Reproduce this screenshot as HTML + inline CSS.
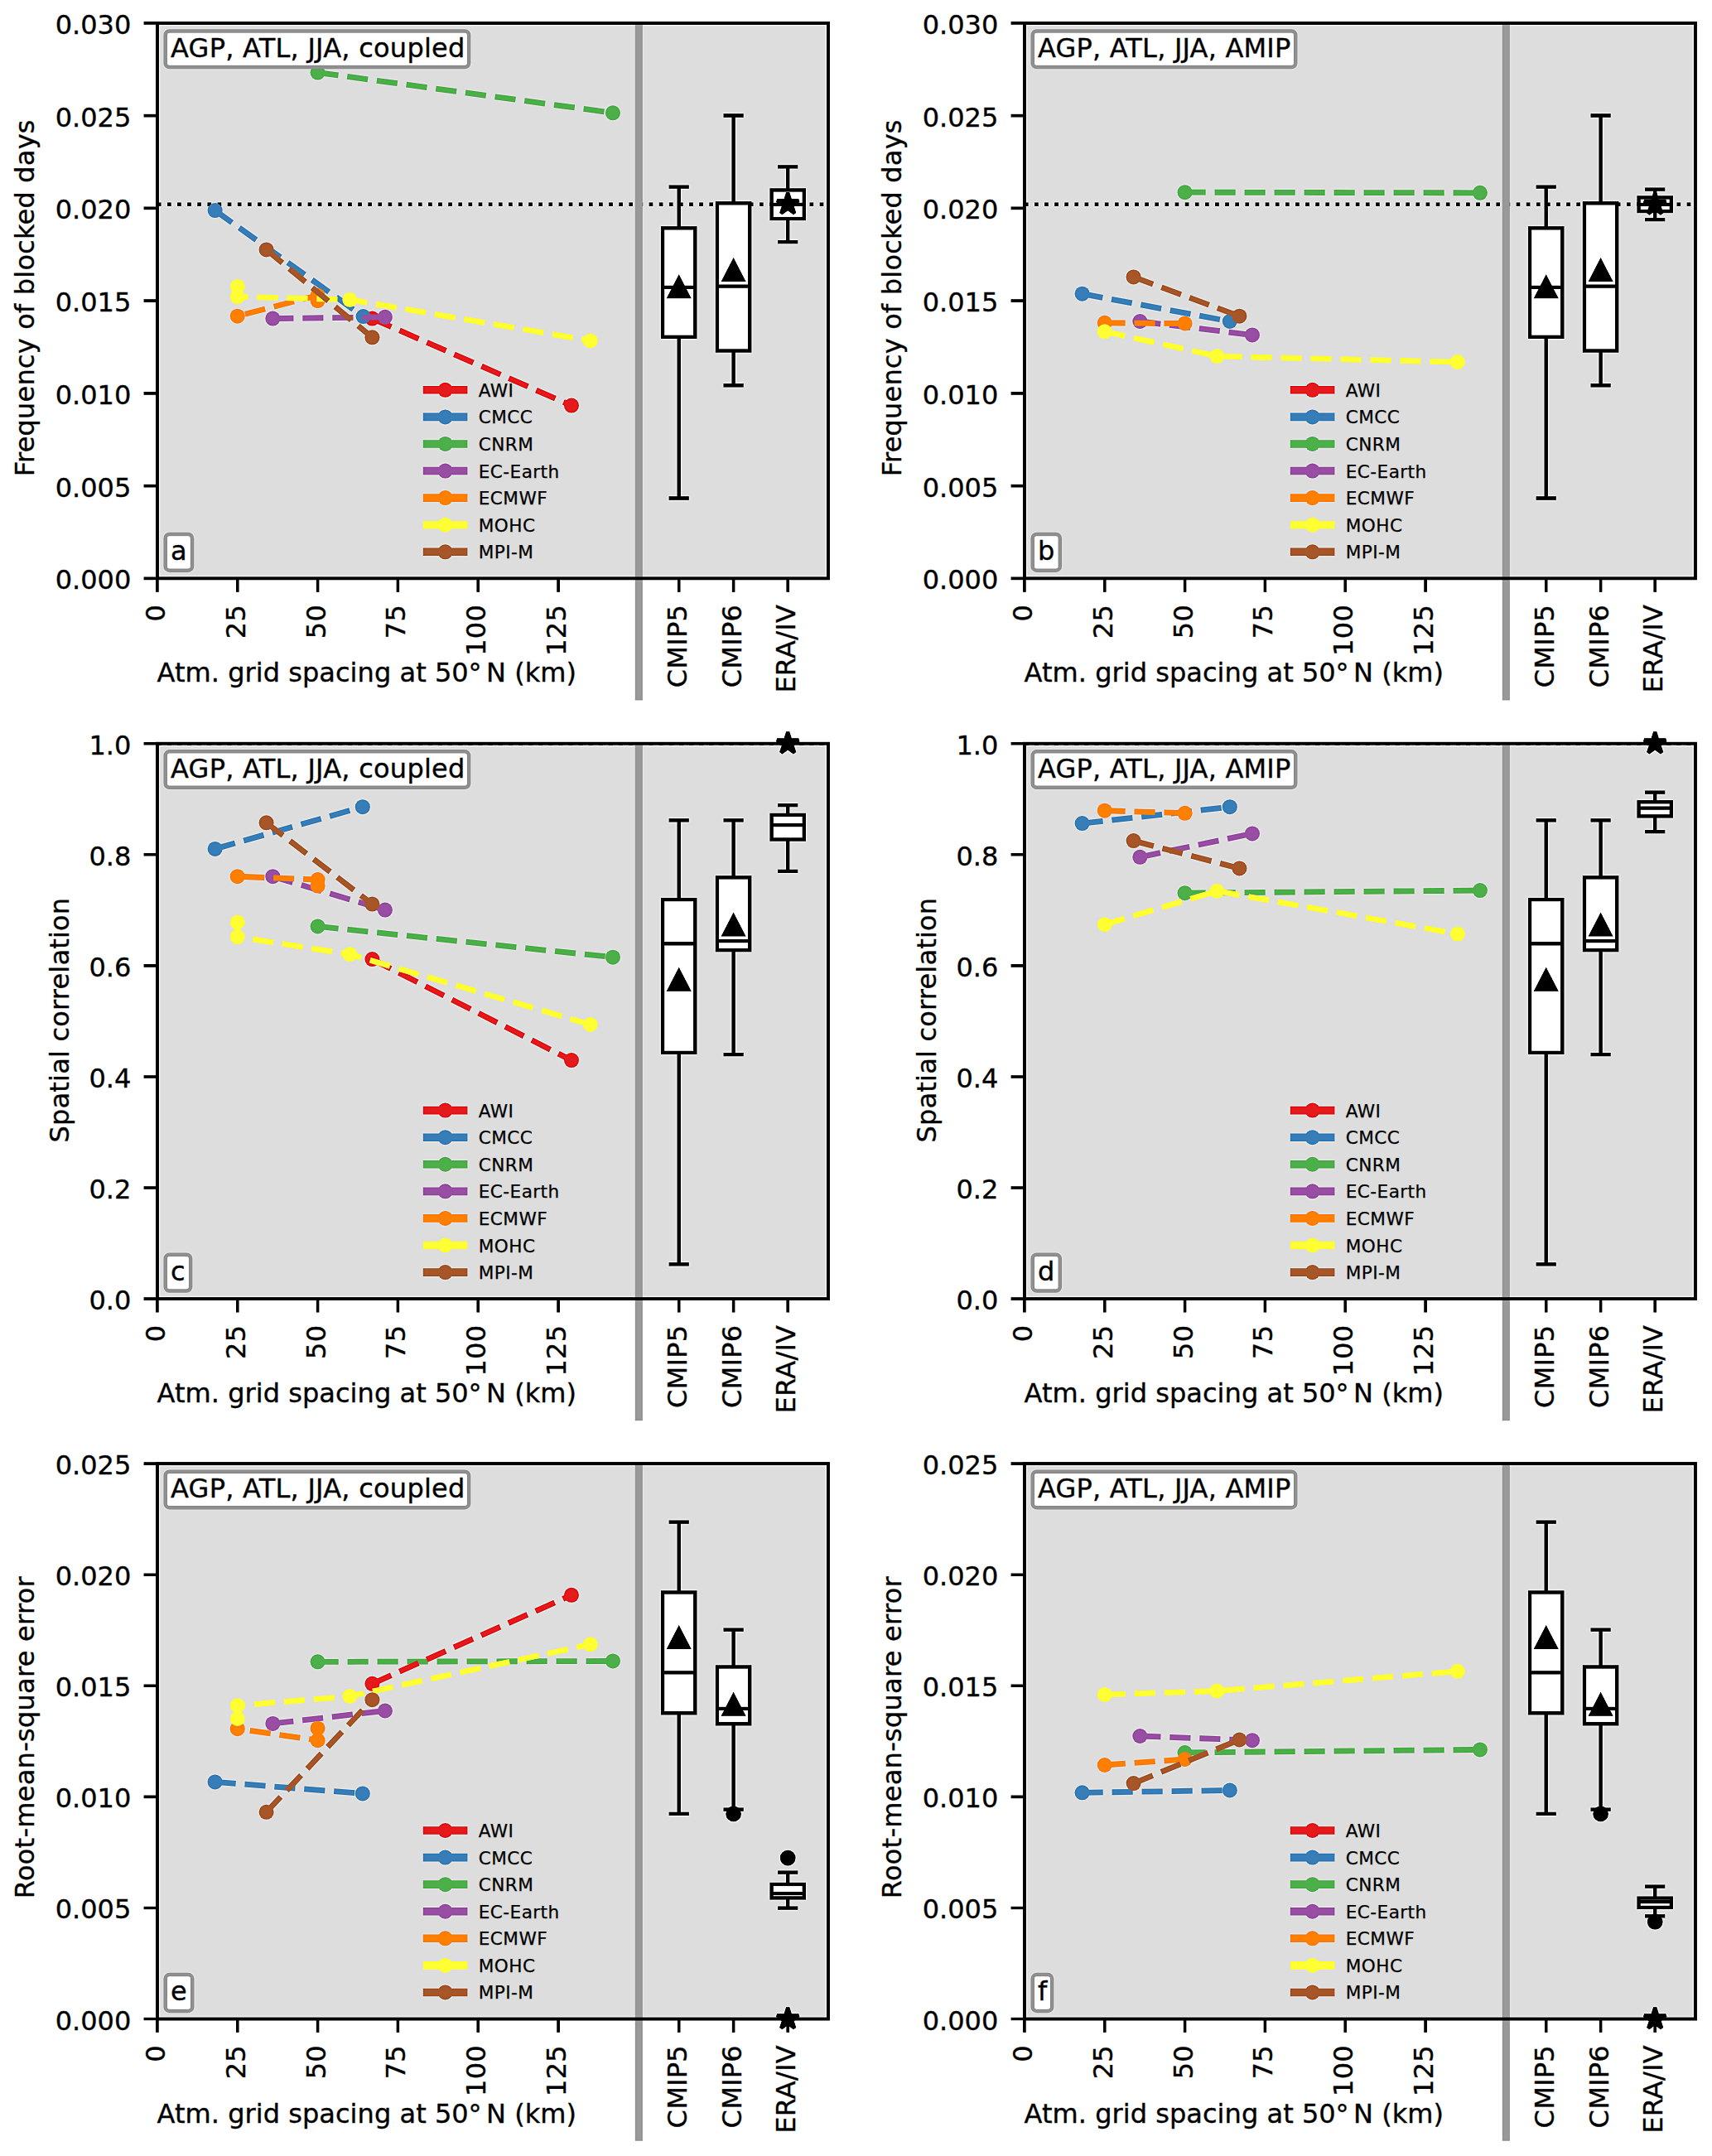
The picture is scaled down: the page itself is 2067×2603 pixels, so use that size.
<!DOCTYPE html>
<html lang="en">
<head>
<meta charset="utf-8">
<title>Blocking frequency vs. atmospheric grid spacing</title>
<style>
html,body{margin:0;padding:0;background:#fff}
svg{display:block}
text{font-family:"DejaVu Sans","Liberation Sans",sans-serif;font-size:32px;letter-spacing:0.25px;fill:#000;stroke:#000;stroke-width:0.35px}
.l{font-size:21.6px;letter-spacing:0.42px;stroke-width:0.25px}
</style>
</head>
<body>
<svg width="2067" height="2603" viewBox="0 0 2067 2603">
<defs><filter id="usm" x="0" y="0" width="2067" height="2603" filterUnits="userSpaceOnUse" color-interpolation-filters="sRGB"><feGaussianBlur stdDeviation="1.1" result="b"/><feComposite in="SourceGraphic" in2="b" operator="arithmetic" k1="0" k2="1.45" k3="-0.45" k4="0"/></filter></defs>
<g filter="url(#usm)">
<rect width="2067" height="2603" fill="#fff"/>
<g>
<rect x="189.9" y="27.9" width="810" height="670.45" fill="#dddddd"/>
<clipPath id="c00"><rect x="189.9" y="27.9" width="810" height="670.45"/></clipPath>
<g clip-path="url(#c00)">
<path d="M189.9 246.85H999.9" stroke="#000" stroke-width="4.5" stroke-dasharray="4.6 7.518" fill="none"/>
<polyline points="383.58,87.57 739.94,136.29" fill="none" stroke="#4daf4a" stroke-width="6.8" stroke-dasharray="25.1 10.9"/>
<circle cx="383.58" cy="87.57" r="9.0" fill="#4daf4a"/>
<circle cx="739.94" cy="136.29" r="9.0" fill="#4daf4a"/>
<polyline points="449.42,384.58 689.97,489.62" fill="none" stroke="#e41a1c" stroke-width="6.8" stroke-dasharray="25.1 10.9"/>
<circle cx="449.42" cy="384.58" r="9.0" fill="#e41a1c"/>
<circle cx="689.97" cy="489.62" r="9.0" fill="#e41a1c"/>
<polyline points="259.62,254.07 438.58,382.12" fill="none" stroke="#377eb8" stroke-width="6.8" stroke-dasharray="25.1 10.9"/>
<circle cx="259.62" cy="254.07" r="9.0" fill="#377eb8"/>
<circle cx="438.58" cy="382.12" r="9.0" fill="#377eb8"/>
<polyline points="329.35,384.58 464.92,382.79" fill="none" stroke="#984ea3" stroke-width="6.8" stroke-dasharray="25.1 10.9"/>
<circle cx="329.35" cy="384.58" r="9.0" fill="#984ea3"/>
<circle cx="464.92" cy="382.79" r="9.0" fill="#984ea3"/>
<polyline points="383.58,363.12 383.58,356.64 286.74,381.67" fill="none" stroke="#ff7f00" stroke-width="6.8" stroke-dasharray="25.1 10.9"/>
<circle cx="383.58" cy="363.12" r="9.0" fill="#ff7f00"/>
<circle cx="383.58" cy="356.64" r="9.0" fill="#ff7f00"/>
<circle cx="286.74" cy="381.67" r="9.0" fill="#ff7f00"/>
<polyline points="286.74,345.92 286.74,358.21 422.31,361.78 712.82,411.4" fill="none" stroke="#ffff33" stroke-width="6.8" stroke-dasharray="25.1 10.9"/>
<circle cx="286.74" cy="345.92" r="9.0" fill="#ffff33"/>
<circle cx="286.74" cy="358.21" r="9.0" fill="#ffff33"/>
<circle cx="422.31" cy="361.78" r="9.0" fill="#ffff33"/>
<circle cx="712.82" cy="411.4" r="9.0" fill="#ffff33"/>
<polyline points="321.6,301.44 449.42,407.37" fill="none" stroke="#a65628" stroke-width="6.8" stroke-dasharray="25.1 10.9"/>
<circle cx="321.6" cy="301.44" r="9.0" fill="#a65628"/>
<circle cx="449.42" cy="407.37" r="9.0" fill="#a65628"/>
</g>
<g stroke="#000" stroke-width="4.3" fill="none">
<rect x="800.1" y="275.39" width="39.2" height="131.41" fill="#fff"/>
<path d="M819.7 275.39V225.57M819.7 406.79V601.49"/>
<path d="M809.8 225.57H829.6M809.8 601.49H829.6" stroke-linecap="square"/>
<path d="M800.1 346.81H839.3"/>
</g>
<path d="M819.7 331.32L834.7 360.32H804.7Z" fill="#000"/>
<g stroke="#000" stroke-width="4.3" fill="none">
<rect x="866" y="245.35" width="39.2" height="178.14" fill="#fff"/>
<path d="M885.6 245.35V139.49M885.6 423.49V465.26"/>
<path d="M875.7 139.49H895.5M875.7 465.26H895.5" stroke-linecap="square"/>
<path d="M866 345.69H905.2"/>
</g>
<path d="M885.6 310.89L900.6 339.89H870.6Z" fill="#000"/>
<g stroke="#000" stroke-width="4.3" fill="none">
<rect x="931.6" y="229.48" width="39.2" height="34.53" fill="#fff"/>
<path d="M951.2 229.48V201.32M951.2 264.01V292.06"/>
<path d="M941.3 201.32H961.1M941.3 292.06H961.1" stroke-linecap="square"/>
<path d="M931.6 246.91H970.8"/>
</g>
<polygon points="951.2,232.77 948.12,242.23 938.17,242.23 946.22,248.08 943.15,257.55 951.2,251.7 959.25,257.55 956.18,248.08 964.23,242.23 954.28,242.23" fill="#000" stroke="#000" stroke-width="4.3" stroke-linejoin="bevel"/>
<path d="M771.3 27.9V845.5" stroke="#999999" stroke-width="9.1" fill="none"/>
<rect x="189.9" y="27.9" width="810" height="670.45" fill="none" stroke="#000" stroke-width="3.9"/>
<path d="M189.9 698.35h-16.3M189.9 586.61h-16.3M189.9 474.87h-16.3M189.9 363.12h-16.3M189.9 251.38h-16.3M189.9 139.64h-16.3M189.9 27.9h-16.3M189.9 698.35v16.3M286.74 698.35v16.3M383.58 698.35v16.3M480.41 698.35v16.3M577.25 698.35v16.3M674.09 698.35v16.3M819.7 698.35v16.3M885.6 698.35v16.3M951.2 698.35v16.3" stroke="#000" stroke-width="3.6" fill="none"/>
<rect x="199.7" y="37.5" width="366.4" height="43.5" rx="5" fill="#fff" stroke="#929292" stroke-width="4.5"/>
<rect x="199.7" y="644.9" width="32.3" height="43.8" rx="5" fill="#fff" stroke="#929292" stroke-width="4.5"/>
<path d="M510.8 470.8h53.6" stroke="#e41a1c" stroke-width="9.6" fill="none"/>
<circle cx="537.6" cy="470.8" r="9.0" fill="#e41a1c"/>
<path d="M510.8 503.38h53.6" stroke="#377eb8" stroke-width="9.6" fill="none"/>
<circle cx="537.6" cy="503.38" r="9.0" fill="#377eb8"/>
<path d="M510.8 535.96h53.6" stroke="#4daf4a" stroke-width="9.6" fill="none"/>
<circle cx="537.6" cy="535.96" r="9.0" fill="#4daf4a"/>
<path d="M510.8 568.54h53.6" stroke="#984ea3" stroke-width="9.6" fill="none"/>
<circle cx="537.6" cy="568.54" r="9.0" fill="#984ea3"/>
<path d="M510.8 601.12h53.6" stroke="#ff7f00" stroke-width="9.6" fill="none"/>
<circle cx="537.6" cy="601.12" r="9.0" fill="#ff7f00"/>
<path d="M510.8 633.7h53.6" stroke="#ffff33" stroke-width="9.6" fill="none"/>
<circle cx="537.6" cy="633.7" r="9.0" fill="#ffff33"/>
<path d="M510.8 666.28h53.6" stroke="#a65628" stroke-width="9.6" fill="none"/>
<circle cx="537.6" cy="666.28" r="9.0" fill="#a65628"/>
</g>
<g>
<rect x="1236.9" y="27.9" width="810" height="670.45" fill="#dddddd"/>
<clipPath id="c10"><rect x="1236.9" y="27.9" width="810" height="670.45"/></clipPath>
<g clip-path="url(#c10)">
<path d="M1236.9 246.85H2046.9" stroke="#000" stroke-width="4.5" stroke-dasharray="4.6 7.518" fill="none"/>
<polyline points="1430.58,232.16 1786.94,232.83" fill="none" stroke="#4daf4a" stroke-width="6.8" stroke-dasharray="25.1 10.9"/>
<circle cx="1430.58" cy="232.16" r="9.0" fill="#4daf4a"/>
<circle cx="1786.94" cy="232.83" r="9.0" fill="#4daf4a"/>
<polyline points="1306.62,354.7 1484.8,388" fill="none" stroke="#377eb8" stroke-width="6.8" stroke-dasharray="25.1 10.9"/>
<circle cx="1306.62" cy="354.7" r="9.0" fill="#377eb8"/>
<circle cx="1484.8" cy="388" r="9.0" fill="#377eb8"/>
<polyline points="1376.35,388 1511.92,404.47" fill="none" stroke="#984ea3" stroke-width="6.8" stroke-dasharray="25.1 10.9"/>
<circle cx="1376.35" cy="388" r="9.0" fill="#984ea3"/>
<circle cx="1511.92" cy="404.47" r="9.0" fill="#984ea3"/>
<polyline points="1430.58,390.5 1333.74,389.81" fill="none" stroke="#ff7f00" stroke-width="6.8" stroke-dasharray="25.1 10.9"/>
<circle cx="1430.58" cy="390.5" r="9.0" fill="#ff7f00"/>
<circle cx="1333.74" cy="389.81" r="9.0" fill="#ff7f00"/>
<polyline points="1333.74,400.29 1469.31,430.1 1759.82,437.1" fill="none" stroke="#ffff33" stroke-width="6.8" stroke-dasharray="25.1 10.9"/>
<circle cx="1333.74" cy="400.29" r="9.0" fill="#ffff33"/>
<circle cx="1469.31" cy="430.1" r="9.0" fill="#ffff33"/>
<circle cx="1759.82" cy="437.1" r="9.0" fill="#ffff33"/>
<polyline points="1368.6,334.41 1496.42,381.67" fill="none" stroke="#a65628" stroke-width="6.8" stroke-dasharray="25.1 10.9"/>
<circle cx="1368.6" cy="334.41" r="9.0" fill="#a65628"/>
<circle cx="1496.42" cy="381.67" r="9.0" fill="#a65628"/>
</g>
<g stroke="#000" stroke-width="4.3" fill="none">
<rect x="1847.1" y="275.39" width="39.2" height="131.41" fill="#fff"/>
<path d="M1866.7 275.39V225.57M1866.7 406.79V601.49"/>
<path d="M1856.8 225.57H1876.6M1856.8 601.49H1876.6" stroke-linecap="square"/>
<path d="M1847.1 346.81H1886.3"/>
</g>
<path d="M1866.7 331.32L1881.7 360.32H1851.7Z" fill="#000"/>
<g stroke="#000" stroke-width="4.3" fill="none">
<rect x="1913" y="245.35" width="39.2" height="178.14" fill="#fff"/>
<path d="M1932.6 245.35V139.49M1932.6 423.49V465.26"/>
<path d="M1922.7 139.49H1942.5M1922.7 465.26H1942.5" stroke-linecap="square"/>
<path d="M1913 345.69H1952.2"/>
</g>
<path d="M1932.6 310.89L1947.6 339.89H1917.6Z" fill="#000"/>
<g stroke="#000" stroke-width="4.3" fill="none">
<rect x="1978.6" y="238.49" width="39.2" height="16.52" fill="#fff"/>
<path d="M1998.2 238.49V228.68M1998.2 255V265.19"/>
<path d="M1988.3 228.68H2008.1M1988.3 265.19H2008.1" stroke-linecap="square"/>
<path d="M1978.6 246.85H2017.8"/>
</g>
<polygon points="1998.2,233.21 1995.12,242.68 1985.17,242.68 1993.22,248.53 1990.15,258 1998.2,252.15 2006.25,258 2003.18,248.53 2011.23,242.68 2001.28,242.68" fill="#000" stroke="#000" stroke-width="4.3" stroke-linejoin="bevel"/>
<path d="M1818.3 27.9V845.5" stroke="#999999" stroke-width="9.1" fill="none"/>
<rect x="1236.9" y="27.9" width="810" height="670.45" fill="none" stroke="#000" stroke-width="3.9"/>
<path d="M1236.9 698.35h-16.3M1236.9 586.61h-16.3M1236.9 474.87h-16.3M1236.9 363.12h-16.3M1236.9 251.38h-16.3M1236.9 139.64h-16.3M1236.9 27.9h-16.3M1236.9 698.35v16.3M1333.74 698.35v16.3M1430.58 698.35v16.3M1527.41 698.35v16.3M1624.25 698.35v16.3M1721.09 698.35v16.3M1866.7 698.35v16.3M1932.6 698.35v16.3M1998.2 698.35v16.3" stroke="#000" stroke-width="3.6" fill="none"/>
<rect x="1246.7" y="37.5" width="317.5" height="43.5" rx="5" fill="#fff" stroke="#929292" stroke-width="4.5"/>
<rect x="1246.7" y="644.9" width="33.1" height="43.8" rx="5" fill="#fff" stroke="#929292" stroke-width="4.5"/>
<path d="M1557.8 470.8h53.6" stroke="#e41a1c" stroke-width="9.6" fill="none"/>
<circle cx="1584.6" cy="470.8" r="9.0" fill="#e41a1c"/>
<path d="M1557.8 503.38h53.6" stroke="#377eb8" stroke-width="9.6" fill="none"/>
<circle cx="1584.6" cy="503.38" r="9.0" fill="#377eb8"/>
<path d="M1557.8 535.96h53.6" stroke="#4daf4a" stroke-width="9.6" fill="none"/>
<circle cx="1584.6" cy="535.96" r="9.0" fill="#4daf4a"/>
<path d="M1557.8 568.54h53.6" stroke="#984ea3" stroke-width="9.6" fill="none"/>
<circle cx="1584.6" cy="568.54" r="9.0" fill="#984ea3"/>
<path d="M1557.8 601.12h53.6" stroke="#ff7f00" stroke-width="9.6" fill="none"/>
<circle cx="1584.6" cy="601.12" r="9.0" fill="#ff7f00"/>
<path d="M1557.8 633.7h53.6" stroke="#ffff33" stroke-width="9.6" fill="none"/>
<circle cx="1584.6" cy="633.7" r="9.0" fill="#ffff33"/>
<path d="M1557.8 666.28h53.6" stroke="#a65628" stroke-width="9.6" fill="none"/>
<circle cx="1584.6" cy="666.28" r="9.0" fill="#a65628"/>
</g>
<g>
<rect x="189.9" y="897.7" width="810" height="670.45" fill="#dddddd"/>
<clipPath id="c01"><rect x="189.9" y="897.7" width="810" height="670.45"/></clipPath>
<g clip-path="url(#c01)">
<path d="M189.9 897.7H999.9" stroke="#000" stroke-width="4.5" stroke-dasharray="4.6 7.518" fill="none"/>
<polyline points="383.58,1118.48 739.94,1155.69" fill="none" stroke="#4daf4a" stroke-width="6.8" stroke-dasharray="25.1 10.9"/>
<circle cx="383.58" cy="1118.48" r="9.0" fill="#4daf4a"/>
<circle cx="739.94" cy="1155.69" r="9.0" fill="#4daf4a"/>
<polyline points="449.42,1158.1 689.97,1280.12" fill="none" stroke="#e41a1c" stroke-width="6.8" stroke-dasharray="25.1 10.9"/>
<circle cx="449.42" cy="1158.1" r="9.0" fill="#e41a1c"/>
<circle cx="689.97" cy="1280.12" r="9.0" fill="#e41a1c"/>
<polyline points="259.62,1024.88 437.8,974.13" fill="none" stroke="#377eb8" stroke-width="6.8" stroke-dasharray="25.1 10.9"/>
<circle cx="259.62" cy="1024.88" r="9.0" fill="#377eb8"/>
<circle cx="437.8" cy="974.13" r="9.0" fill="#377eb8"/>
<polyline points="329.35,1058.21 464.92,1098.57" fill="none" stroke="#984ea3" stroke-width="6.8" stroke-dasharray="25.1 10.9"/>
<circle cx="329.35" cy="1058.21" r="9.0" fill="#984ea3"/>
<circle cx="464.92" cy="1098.57" r="9.0" fill="#984ea3"/>
<polyline points="383.58,1069.6 383.58,1062.03 286.74,1058.21" fill="none" stroke="#ff7f00" stroke-width="6.8" stroke-dasharray="25.1 10.9"/>
<circle cx="383.58" cy="1069.6" r="9.0" fill="#ff7f00"/>
<circle cx="383.58" cy="1062.03" r="9.0" fill="#ff7f00"/>
<circle cx="286.74" cy="1058.21" r="9.0" fill="#ff7f00"/>
<polyline points="286.74,1113.72 286.74,1131.08 422.31,1152.2 712.82,1237.01" fill="none" stroke="#ffff33" stroke-width="6.8" stroke-dasharray="25.1 10.9"/>
<circle cx="286.74" cy="1113.72" r="9.0" fill="#ffff33"/>
<circle cx="286.74" cy="1131.08" r="9.0" fill="#ffff33"/>
<circle cx="422.31" cy="1152.2" r="9.0" fill="#ffff33"/>
<circle cx="712.82" cy="1237.01" r="9.0" fill="#ffff33"/>
<polyline points="321.6,993.37 449.42,1091.53" fill="none" stroke="#a65628" stroke-width="6.8" stroke-dasharray="25.1 10.9"/>
<circle cx="321.6" cy="993.37" r="9.0" fill="#a65628"/>
<circle cx="449.42" cy="1091.53" r="9.0" fill="#a65628"/>
</g>
<g stroke="#000" stroke-width="4.3" fill="none">
<rect x="800.1" y="1086.1" width="39.2" height="184.78" fill="#fff"/>
<path d="M819.7 1086.1V990.42M819.7 1270.87V1526.38"/>
<path d="M809.8 990.42H829.6M809.8 1526.38H829.6" stroke-linecap="square"/>
<path d="M800.1 1139.26H839.3"/>
</g>
<path d="M819.7 1167.71L834.7 1196.71H804.7Z" fill="#000"/>
<g stroke="#000" stroke-width="4.3" fill="none">
<rect x="866" y="1059.41" width="39.2" height="87.69" fill="#fff"/>
<path d="M885.6 1059.41V990.42M885.6 1147.11V1273.22"/>
<path d="M875.7 990.42H895.5M875.7 1273.22H895.5" stroke-linecap="square"/>
<path d="M866 1136.04H905.2"/>
</g>
<path d="M885.6 1101.4L900.6 1130.4H870.6Z" fill="#000"/>
<g stroke="#000" stroke-width="4.3" fill="none">
<rect x="931.6" y="983.92" width="39.2" height="29.57" fill="#fff"/>
<path d="M951.2 983.92V972.05M951.2 1013.49V1051.9"/>
<path d="M941.3 972.05H961.1M941.3 1051.9H961.1" stroke-linecap="square"/>
<path d="M931.6 996.06H970.8"/>
</g>
<polygon points="951.2,884 948.12,893.47 938.17,893.47 946.22,899.32 943.15,908.78 951.2,902.93 959.25,908.78 956.18,899.32 964.23,893.47 954.28,893.47" fill="#000" stroke="#000" stroke-width="4.3" stroke-linejoin="bevel"/>
<path d="M771.3 897.7V1715.3" stroke="#999999" stroke-width="9.1" fill="none"/>
<rect x="189.9" y="897.7" width="810" height="670.45" fill="none" stroke="#000" stroke-width="3.9"/>
<path d="M189.9 1568.15h-16.3M189.9 1434.06h-16.3M189.9 1299.97h-16.3M189.9 1165.88h-16.3M189.9 1031.79h-16.3M189.9 897.7h-16.3M189.9 1568.15v16.3M286.74 1568.15v16.3M383.58 1568.15v16.3M480.41 1568.15v16.3M577.25 1568.15v16.3M674.09 1568.15v16.3M819.7 1568.15v16.3M885.6 1568.15v16.3M951.2 1568.15v16.3" stroke="#000" stroke-width="3.6" fill="none"/>
<rect x="199.7" y="907.3" width="366.4" height="43.5" rx="5" fill="#fff" stroke="#929292" stroke-width="4.5"/>
<rect x="199.7" y="1514.7" width="30.4" height="43.8" rx="5" fill="#fff" stroke="#929292" stroke-width="4.5"/>
<path d="M510.8 1340.6h53.6" stroke="#e41a1c" stroke-width="9.6" fill="none"/>
<circle cx="537.6" cy="1340.6" r="9.0" fill="#e41a1c"/>
<path d="M510.8 1373.18h53.6" stroke="#377eb8" stroke-width="9.6" fill="none"/>
<circle cx="537.6" cy="1373.18" r="9.0" fill="#377eb8"/>
<path d="M510.8 1405.76h53.6" stroke="#4daf4a" stroke-width="9.6" fill="none"/>
<circle cx="537.6" cy="1405.76" r="9.0" fill="#4daf4a"/>
<path d="M510.8 1438.34h53.6" stroke="#984ea3" stroke-width="9.6" fill="none"/>
<circle cx="537.6" cy="1438.34" r="9.0" fill="#984ea3"/>
<path d="M510.8 1470.92h53.6" stroke="#ff7f00" stroke-width="9.6" fill="none"/>
<circle cx="537.6" cy="1470.92" r="9.0" fill="#ff7f00"/>
<path d="M510.8 1503.5h53.6" stroke="#ffff33" stroke-width="9.6" fill="none"/>
<circle cx="537.6" cy="1503.5" r="9.0" fill="#ffff33"/>
<path d="M510.8 1536.08h53.6" stroke="#a65628" stroke-width="9.6" fill="none"/>
<circle cx="537.6" cy="1536.08" r="9.0" fill="#a65628"/>
</g>
<g>
<rect x="1236.9" y="897.7" width="810" height="670.45" fill="#dddddd"/>
<clipPath id="c11"><rect x="1236.9" y="897.7" width="810" height="670.45"/></clipPath>
<g clip-path="url(#c11)">
<path d="M1236.9 897.7H2046.9" stroke="#000" stroke-width="4.5" stroke-dasharray="4.6 7.518" fill="none"/>
<polyline points="1430.58,1078.19 1786.94,1075.1" fill="none" stroke="#4daf4a" stroke-width="6.8" stroke-dasharray="25.1 10.9"/>
<circle cx="1430.58" cy="1078.19" r="9.0" fill="#4daf4a"/>
<circle cx="1786.94" cy="1075.1" r="9.0" fill="#4daf4a"/>
<polyline points="1306.62,994.11 1484.8,974.13" fill="none" stroke="#377eb8" stroke-width="6.8" stroke-dasharray="25.1 10.9"/>
<circle cx="1306.62" cy="994.11" r="9.0" fill="#377eb8"/>
<circle cx="1484.8" cy="974.13" r="9.0" fill="#377eb8"/>
<polyline points="1376.35,1034.81 1511.92,1006.38" fill="none" stroke="#984ea3" stroke-width="6.8" stroke-dasharray="25.1 10.9"/>
<circle cx="1376.35" cy="1034.81" r="9.0" fill="#984ea3"/>
<circle cx="1511.92" cy="1006.38" r="9.0" fill="#984ea3"/>
<polyline points="1430.58,981.77 1333.74,978.69" fill="none" stroke="#ff7f00" stroke-width="6.8" stroke-dasharray="25.1 10.9"/>
<circle cx="1430.58" cy="981.77" r="9.0" fill="#ff7f00"/>
<circle cx="1333.74" cy="978.69" r="9.0" fill="#ff7f00"/>
<polyline points="1333.74,1116.13 1469.31,1075.77 1759.82,1127.6" fill="none" stroke="#ffff33" stroke-width="6.8" stroke-dasharray="25.1 10.9"/>
<circle cx="1333.74" cy="1116.13" r="9.0" fill="#ffff33"/>
<circle cx="1469.31" cy="1075.77" r="9.0" fill="#ffff33"/>
<circle cx="1759.82" cy="1127.6" r="9.0" fill="#ffff33"/>
<polyline points="1368.6,1015.1 1496.42,1048.42" fill="none" stroke="#a65628" stroke-width="6.8" stroke-dasharray="25.1 10.9"/>
<circle cx="1368.6" cy="1015.1" r="9.0" fill="#a65628"/>
<circle cx="1496.42" cy="1048.42" r="9.0" fill="#a65628"/>
</g>
<g stroke="#000" stroke-width="4.3" fill="none">
<rect x="1847.1" y="1086.1" width="39.2" height="184.78" fill="#fff"/>
<path d="M1866.7 1086.1V990.42M1866.7 1270.87V1526.38"/>
<path d="M1856.8 990.42H1876.6M1856.8 1526.38H1876.6" stroke-linecap="square"/>
<path d="M1847.1 1139.26H1886.3"/>
</g>
<path d="M1866.7 1167.71L1881.7 1196.71H1851.7Z" fill="#000"/>
<g stroke="#000" stroke-width="4.3" fill="none">
<rect x="1913" y="1059.41" width="39.2" height="87.69" fill="#fff"/>
<path d="M1932.6 1059.41V990.42M1932.6 1147.11V1273.22"/>
<path d="M1922.7 990.42H1942.5M1922.7 1273.22H1942.5" stroke-linecap="square"/>
<path d="M1913 1136.04H1952.2"/>
</g>
<path d="M1932.6 1101.4L1947.6 1130.4H1917.6Z" fill="#000"/>
<g stroke="#000" stroke-width="4.3" fill="none">
<rect x="1978.6" y="968.3" width="39.2" height="17.1" fill="#fff"/>
<path d="M1998.2 968.3V956.57M1998.2 985.39V1004.03"/>
<path d="M1988.3 956.57H2008.1M1988.3 1004.03H2008.1" stroke-linecap="square"/>
<path d="M1978.6 975.67H2017.8"/>
</g>
<polygon points="1998.2,884 1995.12,893.47 1985.17,893.47 1993.22,899.32 1990.15,908.78 1998.2,902.93 2006.25,908.78 2003.18,899.32 2011.23,893.47 2001.28,893.47" fill="#000" stroke="#000" stroke-width="4.3" stroke-linejoin="bevel"/>
<path d="M1818.3 897.7V1715.3" stroke="#999999" stroke-width="9.1" fill="none"/>
<rect x="1236.9" y="897.7" width="810" height="670.45" fill="none" stroke="#000" stroke-width="3.9"/>
<path d="M1236.9 1568.15h-16.3M1236.9 1434.06h-16.3M1236.9 1299.97h-16.3M1236.9 1165.88h-16.3M1236.9 1031.79h-16.3M1236.9 897.7h-16.3M1236.9 1568.15v16.3M1333.74 1568.15v16.3M1430.58 1568.15v16.3M1527.41 1568.15v16.3M1624.25 1568.15v16.3M1721.09 1568.15v16.3M1866.7 1568.15v16.3M1932.6 1568.15v16.3M1998.2 1568.15v16.3" stroke="#000" stroke-width="3.6" fill="none"/>
<rect x="1246.7" y="907.3" width="317.5" height="43.5" rx="5" fill="#fff" stroke="#929292" stroke-width="4.5"/>
<rect x="1246.7" y="1514.7" width="33.1" height="43.8" rx="5" fill="#fff" stroke="#929292" stroke-width="4.5"/>
<path d="M1557.8 1340.6h53.6" stroke="#e41a1c" stroke-width="9.6" fill="none"/>
<circle cx="1584.6" cy="1340.6" r="9.0" fill="#e41a1c"/>
<path d="M1557.8 1373.18h53.6" stroke="#377eb8" stroke-width="9.6" fill="none"/>
<circle cx="1584.6" cy="1373.18" r="9.0" fill="#377eb8"/>
<path d="M1557.8 1405.76h53.6" stroke="#4daf4a" stroke-width="9.6" fill="none"/>
<circle cx="1584.6" cy="1405.76" r="9.0" fill="#4daf4a"/>
<path d="M1557.8 1438.34h53.6" stroke="#984ea3" stroke-width="9.6" fill="none"/>
<circle cx="1584.6" cy="1438.34" r="9.0" fill="#984ea3"/>
<path d="M1557.8 1470.92h53.6" stroke="#ff7f00" stroke-width="9.6" fill="none"/>
<circle cx="1584.6" cy="1470.92" r="9.0" fill="#ff7f00"/>
<path d="M1557.8 1503.5h53.6" stroke="#ffff33" stroke-width="9.6" fill="none"/>
<circle cx="1584.6" cy="1503.5" r="9.0" fill="#ffff33"/>
<path d="M1557.8 1536.08h53.6" stroke="#a65628" stroke-width="9.6" fill="none"/>
<circle cx="1584.6" cy="1536.08" r="9.0" fill="#a65628"/>
</g>
<g>
<rect x="189.9" y="1767.1" width="810" height="670.45" fill="#dddddd"/>
<clipPath id="c02"><rect x="189.9" y="1767.1" width="810" height="670.45"/></clipPath>
<g clip-path="url(#c02)">
<polyline points="383.58,2006.37 739.94,2005.46" fill="none" stroke="#4daf4a" stroke-width="6.8" stroke-dasharray="25.1 10.9"/>
<circle cx="383.58" cy="2006.37" r="9.0" fill="#4daf4a"/>
<circle cx="739.94" cy="2005.46" r="9.0" fill="#4daf4a"/>
<polyline points="449.42,2032.81 689.97,1925.81" fill="none" stroke="#e41a1c" stroke-width="6.8" stroke-dasharray="25.1 10.9"/>
<circle cx="449.42" cy="2032.81" r="9.0" fill="#e41a1c"/>
<circle cx="689.97" cy="1925.81" r="9.0" fill="#e41a1c"/>
<polyline points="259.62,2151.4 437.8,2165.4" fill="none" stroke="#377eb8" stroke-width="6.8" stroke-dasharray="25.1 10.9"/>
<circle cx="259.62" cy="2151.4" r="9.0" fill="#377eb8"/>
<circle cx="437.8" cy="2165.4" r="9.0" fill="#377eb8"/>
<polyline points="329.35,2080.9 464.92,2065.5" fill="none" stroke="#984ea3" stroke-width="6.8" stroke-dasharray="25.1 10.9"/>
<circle cx="329.35" cy="2080.9" r="9.0" fill="#984ea3"/>
<circle cx="464.92" cy="2065.5" r="9.0" fill="#984ea3"/>
<polyline points="383.58,2086.69 383.58,2101.2 286.74,2087.2" fill="none" stroke="#ff7f00" stroke-width="6.8" stroke-dasharray="25.1 10.9"/>
<circle cx="383.58" cy="2086.69" r="9.0" fill="#ff7f00"/>
<circle cx="383.58" cy="2101.2" r="9.0" fill="#ff7f00"/>
<circle cx="286.74" cy="2087.2" r="9.0" fill="#ff7f00"/>
<polyline points="286.74,2074.89 286.74,2059.2 422.31,2047.99 712.82,1985.34" fill="none" stroke="#ffff33" stroke-width="6.8" stroke-dasharray="25.1 10.9"/>
<circle cx="286.74" cy="2074.89" r="9.0" fill="#ffff33"/>
<circle cx="286.74" cy="2059.2" r="9.0" fill="#ffff33"/>
<circle cx="422.31" cy="2047.99" r="9.0" fill="#ffff33"/>
<circle cx="712.82" cy="1985.34" r="9.0" fill="#ffff33"/>
<polyline points="321.6,2187.79 449.42,2052.2" fill="none" stroke="#a65628" stroke-width="6.8" stroke-dasharray="25.1 10.9"/>
<circle cx="321.6" cy="2187.79" r="9.0" fill="#a65628"/>
<circle cx="449.42" cy="2052.2" r="9.0" fill="#a65628"/>
</g>
<g stroke="#000" stroke-width="4.3" fill="none">
<rect x="800.1" y="1922.51" width="39.2" height="145.78" fill="#fff"/>
<path d="M819.7 1922.51V1837.6M819.7 2068.29V2189.81"/>
<path d="M809.8 1837.6H829.6M809.8 2189.81H829.6" stroke-linecap="square"/>
<path d="M800.1 2019.4H839.3"/>
</g>
<path d="M819.7 1961.89L834.7 1990.89H804.7Z" fill="#000"/>
<g stroke="#000" stroke-width="4.3" fill="none">
<rect x="866" y="2012.48" width="39.2" height="68.81" fill="#fff"/>
<path d="M885.6 2012.48V1967.7M885.6 2081.3V2184.6"/>
<path d="M875.7 1967.7H895.5M875.7 2184.6H895.5" stroke-linecap="square"/>
<path d="M866 2062.8H905.2"/>
</g>
<circle cx="885.6" cy="2189.91" r="9.3" fill="#000"/>
<path d="M885.6 2042.7L900.6 2071.7H870.6Z" fill="#000"/>
<g stroke="#000" stroke-width="4.3" fill="none">
<rect x="931.6" y="2275.01" width="39.2" height="16.39" fill="#fff"/>
<path d="M951.2 2275.01V2260.6M951.2 2291.39V2303.7"/>
<path d="M941.3 2260.6H961.1M941.3 2303.7H961.1" stroke-linecap="square"/>
<path d="M931.6 2286.08H970.8"/>
</g>
<circle cx="951.2" cy="2243.09" r="9.3" fill="#000"/>
<polygon points="951.2,2423.85 948.12,2433.32 938.17,2433.32 946.22,2439.17 943.15,2448.63 951.2,2442.78 959.25,2448.63 956.18,2439.17 964.23,2433.32 954.28,2433.32" fill="#000" stroke="#000" stroke-width="4.3" stroke-linejoin="bevel"/>
<path d="M771.3 1767.1V2584.7" stroke="#999999" stroke-width="9.1" fill="none"/>
<rect x="189.9" y="1767.1" width="810" height="670.45" fill="none" stroke="#000" stroke-width="3.9"/>
<path d="M189.9 2437.55h-16.3M189.9 2303.46h-16.3M189.9 2169.37h-16.3M189.9 2035.28h-16.3M189.9 1901.19h-16.3M189.9 1767.1h-16.3M189.9 2437.55v16.3M286.74 2437.55v16.3M383.58 2437.55v16.3M480.41 2437.55v16.3M577.25 2437.55v16.3M674.09 2437.55v16.3M819.7 2437.55v16.3M885.6 2437.55v16.3M951.2 2437.55v16.3" stroke="#000" stroke-width="3.6" fill="none"/>
<rect x="199.7" y="1776.7" width="366.4" height="43.5" rx="5" fill="#fff" stroke="#929292" stroke-width="4.5"/>
<rect x="199.7" y="2384.1" width="32.5" height="43.8" rx="5" fill="#fff" stroke="#929292" stroke-width="4.5"/>
<path d="M510.8 2210h53.6" stroke="#e41a1c" stroke-width="9.6" fill="none"/>
<circle cx="537.6" cy="2210" r="9.0" fill="#e41a1c"/>
<path d="M510.8 2242.58h53.6" stroke="#377eb8" stroke-width="9.6" fill="none"/>
<circle cx="537.6" cy="2242.58" r="9.0" fill="#377eb8"/>
<path d="M510.8 2275.16h53.6" stroke="#4daf4a" stroke-width="9.6" fill="none"/>
<circle cx="537.6" cy="2275.16" r="9.0" fill="#4daf4a"/>
<path d="M510.8 2307.74h53.6" stroke="#984ea3" stroke-width="9.6" fill="none"/>
<circle cx="537.6" cy="2307.74" r="9.0" fill="#984ea3"/>
<path d="M510.8 2340.32h53.6" stroke="#ff7f00" stroke-width="9.6" fill="none"/>
<circle cx="537.6" cy="2340.32" r="9.0" fill="#ff7f00"/>
<path d="M510.8 2372.9h53.6" stroke="#ffff33" stroke-width="9.6" fill="none"/>
<circle cx="537.6" cy="2372.9" r="9.0" fill="#ffff33"/>
<path d="M510.8 2405.48h53.6" stroke="#a65628" stroke-width="9.6" fill="none"/>
<circle cx="537.6" cy="2405.48" r="9.0" fill="#a65628"/>
</g>
<g>
<rect x="1236.9" y="1767.1" width="810" height="670.45" fill="#dddddd"/>
<clipPath id="c12"><rect x="1236.9" y="1767.1" width="810" height="670.45"/></clipPath>
<g clip-path="url(#c12)">
<polyline points="1430.58,2116 1786.94,2112.41" fill="none" stroke="#4daf4a" stroke-width="6.8" stroke-dasharray="25.1 10.9"/>
<circle cx="1430.58" cy="2116" r="9.0" fill="#4daf4a"/>
<circle cx="1786.94" cy="2112.41" r="9.0" fill="#4daf4a"/>
<polyline points="1306.62,2164.3 1484.8,2161.51" fill="none" stroke="#377eb8" stroke-width="6.8" stroke-dasharray="25.1 10.9"/>
<circle cx="1306.62" cy="2164.3" r="9.0" fill="#377eb8"/>
<circle cx="1484.8" cy="2161.51" r="9.0" fill="#377eb8"/>
<polyline points="1376.35,2096 1511.92,2101.2" fill="none" stroke="#984ea3" stroke-width="6.8" stroke-dasharray="25.1 10.9"/>
<circle cx="1376.35" cy="2096" r="9.0" fill="#984ea3"/>
<circle cx="1511.92" cy="2101.2" r="9.0" fill="#984ea3"/>
<polyline points="1430.58,2123.99 1333.74,2130.99" fill="none" stroke="#ff7f00" stroke-width="6.8" stroke-dasharray="25.1 10.9"/>
<circle cx="1430.58" cy="2123.99" r="9.0" fill="#ff7f00"/>
<circle cx="1333.74" cy="2130.99" r="9.0" fill="#ff7f00"/>
<polyline points="1333.74,2045.9 1469.31,2041.61 1759.82,2017.79" fill="none" stroke="#ffff33" stroke-width="6.8" stroke-dasharray="25.1 10.9"/>
<circle cx="1333.74" cy="2045.9" r="9.0" fill="#ffff33"/>
<circle cx="1469.31" cy="2041.61" r="9.0" fill="#ffff33"/>
<circle cx="1759.82" cy="2017.79" r="9.0" fill="#ffff33"/>
<polyline points="1368.6,2153.09 1496.42,2100.5" fill="none" stroke="#a65628" stroke-width="6.8" stroke-dasharray="25.1 10.9"/>
<circle cx="1368.6" cy="2153.09" r="9.0" fill="#a65628"/>
<circle cx="1496.42" cy="2100.5" r="9.0" fill="#a65628"/>
</g>
<g stroke="#000" stroke-width="4.3" fill="none">
<rect x="1847.1" y="1922.51" width="39.2" height="145.78" fill="#fff"/>
<path d="M1866.7 1922.51V1837.6M1866.7 2068.29V2189.81"/>
<path d="M1856.8 1837.6H1876.6M1856.8 2189.81H1876.6" stroke-linecap="square"/>
<path d="M1847.1 2019.4H1886.3"/>
</g>
<path d="M1866.7 1961.89L1881.7 1990.89H1851.7Z" fill="#000"/>
<g stroke="#000" stroke-width="4.3" fill="none">
<rect x="1913" y="2012.48" width="39.2" height="68.81" fill="#fff"/>
<path d="M1932.6 2012.48V1967.7M1932.6 2081.3V2184.6"/>
<path d="M1922.7 1967.7H1942.5M1922.7 2184.6H1942.5" stroke-linecap="square"/>
<path d="M1913 2062.8H1952.2"/>
</g>
<circle cx="1932.6" cy="2189.91" r="9.3" fill="#000"/>
<path d="M1932.6 2042.7L1947.6 2071.7H1917.6Z" fill="#000"/>
<g stroke="#000" stroke-width="4.3" fill="none">
<rect x="1978.6" y="2291.66" width="39.2" height="11.24" fill="#fff"/>
<path d="M1998.2 2291.66V2277.71M1998.2 2302.9V2313.38"/>
<path d="M1988.3 2277.71H2008.1M1988.3 2313.38H2008.1" stroke-linecap="square"/>
<path d="M1978.6 2296.03H2017.8"/>
</g>
<circle cx="1998.2" cy="2320.3" r="9.3" fill="#000"/>
<polygon points="1998.2,2423.85 1995.12,2433.32 1985.17,2433.32 1993.22,2439.17 1990.15,2448.63 1998.2,2442.78 2006.25,2448.63 2003.18,2439.17 2011.23,2433.32 2001.28,2433.32" fill="#000" stroke="#000" stroke-width="4.3" stroke-linejoin="bevel"/>
<path d="M1818.3 1767.1V2584.7" stroke="#999999" stroke-width="9.1" fill="none"/>
<rect x="1236.9" y="1767.1" width="810" height="670.45" fill="none" stroke="#000" stroke-width="3.9"/>
<path d="M1236.9 2437.55h-16.3M1236.9 2303.46h-16.3M1236.9 2169.37h-16.3M1236.9 2035.28h-16.3M1236.9 1901.19h-16.3M1236.9 1767.1h-16.3M1236.9 2437.55v16.3M1333.74 2437.55v16.3M1430.58 2437.55v16.3M1527.41 2437.55v16.3M1624.25 2437.55v16.3M1721.09 2437.55v16.3M1866.7 2437.55v16.3M1932.6 2437.55v16.3M1998.2 2437.55v16.3" stroke="#000" stroke-width="3.6" fill="none"/>
<rect x="1246.7" y="1776.7" width="317.5" height="43.5" rx="5" fill="#fff" stroke="#929292" stroke-width="4.5"/>
<rect x="1246.7" y="2384.1" width="23.4" height="43.8" rx="5" fill="#fff" stroke="#929292" stroke-width="4.5"/>
<path d="M1557.8 2210h53.6" stroke="#e41a1c" stroke-width="9.6" fill="none"/>
<circle cx="1584.6" cy="2210" r="9.0" fill="#e41a1c"/>
<path d="M1557.8 2242.58h53.6" stroke="#377eb8" stroke-width="9.6" fill="none"/>
<circle cx="1584.6" cy="2242.58" r="9.0" fill="#377eb8"/>
<path d="M1557.8 2275.16h53.6" stroke="#4daf4a" stroke-width="9.6" fill="none"/>
<circle cx="1584.6" cy="2275.16" r="9.0" fill="#4daf4a"/>
<path d="M1557.8 2307.74h53.6" stroke="#984ea3" stroke-width="9.6" fill="none"/>
<circle cx="1584.6" cy="2307.74" r="9.0" fill="#984ea3"/>
<path d="M1557.8 2340.32h53.6" stroke="#ff7f00" stroke-width="9.6" fill="none"/>
<circle cx="1584.6" cy="2340.32" r="9.0" fill="#ff7f00"/>
<path d="M1557.8 2372.9h53.6" stroke="#ffff33" stroke-width="9.6" fill="none"/>
<circle cx="1584.6" cy="2372.9" r="9.0" fill="#ffff33"/>
<path d="M1557.8 2405.48h53.6" stroke="#a65628" stroke-width="9.6" fill="none"/>
<circle cx="1584.6" cy="2405.48" r="9.0" fill="#a65628"/>
</g>
</g>
<g>
<text x="158.3" y="711.35" text-anchor="end" style="letter-spacing:0">0.000</text>
<text x="158.3" y="599.61" text-anchor="end" style="letter-spacing:0">0.005</text>
<text x="158.3" y="487.87" text-anchor="end" style="letter-spacing:0">0.010</text>
<text x="158.3" y="376.12" text-anchor="end" style="letter-spacing:0">0.015</text>
<text x="158.3" y="264.38" text-anchor="end" style="letter-spacing:0">0.020</text>
<text x="158.3" y="152.64" text-anchor="end" style="letter-spacing:0">0.025</text>
<text x="158.3" y="40.9" text-anchor="end" style="letter-spacing:0">0.030</text>
<text transform="translate(198.9 729.95) rotate(-90)" text-anchor="end">0</text>
<text transform="translate(295.74 729.95) rotate(-90)" text-anchor="end">25</text>
<text transform="translate(392.58 729.95) rotate(-90)" text-anchor="end">50</text>
<text transform="translate(489.41 729.95) rotate(-90)" text-anchor="end">75</text>
<text transform="translate(586.25 729.95) rotate(-90)" text-anchor="end">100</text>
<text transform="translate(683.09 729.95) rotate(-90)" text-anchor="end">125</text>
<text transform="translate(828.7 729.95) rotate(-90)" text-anchor="end">CMIP5</text>
<text transform="translate(894.6 729.95) rotate(-90)" text-anchor="end">CMIP6</text>
<text transform="translate(960.2 729.95) rotate(-90)" text-anchor="end">ERA/IV</text>
<text x="189.5" y="822.8" style="letter-spacing:0.05px">Atm. grid spacing at 50<tspan dx="-0.2" dy="1.4">°</tspan><tspan dx="5.4" dy="-1.4">N (km)</tspan></text>
<text transform="translate(41.2 359.8) rotate(-90)" text-anchor="middle" style="letter-spacing:0.2px">Frequency of blocked days</text>
<text x="206" y="68.7" style="letter-spacing:0.25px">AGP, ATL, JJA, coupled</text>
<text x="206" y="676">a</text>
<text x="577.8" y="478.8" class="l">AWI</text>
<text x="577.8" y="511.38" class="l">CMCC</text>
<text x="577.8" y="543.96" class="l">CNRM</text>
<text x="577.8" y="576.54" class="l">EC-Earth</text>
<text x="577.8" y="609.12" class="l">ECMWF</text>
<text x="577.8" y="641.7" class="l">MOHC</text>
<text x="577.8" y="674.28" class="l">MPI-M</text>
<text x="1205.3" y="711.35" text-anchor="end" style="letter-spacing:0">0.000</text>
<text x="1205.3" y="599.61" text-anchor="end" style="letter-spacing:0">0.005</text>
<text x="1205.3" y="487.87" text-anchor="end" style="letter-spacing:0">0.010</text>
<text x="1205.3" y="376.12" text-anchor="end" style="letter-spacing:0">0.015</text>
<text x="1205.3" y="264.38" text-anchor="end" style="letter-spacing:0">0.020</text>
<text x="1205.3" y="152.64" text-anchor="end" style="letter-spacing:0">0.025</text>
<text x="1205.3" y="40.9" text-anchor="end" style="letter-spacing:0">0.030</text>
<text transform="translate(1245.9 729.95) rotate(-90)" text-anchor="end">0</text>
<text transform="translate(1342.74 729.95) rotate(-90)" text-anchor="end">25</text>
<text transform="translate(1439.58 729.95) rotate(-90)" text-anchor="end">50</text>
<text transform="translate(1536.41 729.95) rotate(-90)" text-anchor="end">75</text>
<text transform="translate(1633.25 729.95) rotate(-90)" text-anchor="end">100</text>
<text transform="translate(1730.09 729.95) rotate(-90)" text-anchor="end">125</text>
<text transform="translate(1875.7 729.95) rotate(-90)" text-anchor="end">CMIP5</text>
<text transform="translate(1941.6 729.95) rotate(-90)" text-anchor="end">CMIP6</text>
<text transform="translate(2007.2 729.95) rotate(-90)" text-anchor="end">ERA/IV</text>
<text x="1236.5" y="822.8" style="letter-spacing:0.05px">Atm. grid spacing at 50<tspan dx="-0.2" dy="1.4">°</tspan><tspan dx="5.4" dy="-1.4">N (km)</tspan></text>
<text transform="translate(1088.2 359.8) rotate(-90)" text-anchor="middle" style="letter-spacing:0.2px">Frequency of blocked days</text>
<text x="1253" y="68.7" style="letter-spacing:0.2px">AGP, ATL, JJA, AMIP</text>
<text x="1253" y="676">b</text>
<text x="1624.8" y="478.8" class="l">AWI</text>
<text x="1624.8" y="511.38" class="l">CMCC</text>
<text x="1624.8" y="543.96" class="l">CNRM</text>
<text x="1624.8" y="576.54" class="l">EC-Earth</text>
<text x="1624.8" y="609.12" class="l">ECMWF</text>
<text x="1624.8" y="641.7" class="l">MOHC</text>
<text x="1624.8" y="674.28" class="l">MPI-M</text>
<text x="158.3" y="1581.15" text-anchor="end" style="letter-spacing:0">0.0</text>
<text x="158.3" y="1447.06" text-anchor="end" style="letter-spacing:0">0.2</text>
<text x="158.3" y="1312.97" text-anchor="end" style="letter-spacing:0">0.4</text>
<text x="158.3" y="1178.88" text-anchor="end" style="letter-spacing:0">0.6</text>
<text x="158.3" y="1044.79" text-anchor="end" style="letter-spacing:0">0.8</text>
<text x="158.3" y="910.7" text-anchor="end" style="letter-spacing:0">1.0</text>
<text transform="translate(198.9 1599.75) rotate(-90)" text-anchor="end">0</text>
<text transform="translate(295.74 1599.75) rotate(-90)" text-anchor="end">25</text>
<text transform="translate(392.58 1599.75) rotate(-90)" text-anchor="end">50</text>
<text transform="translate(489.41 1599.75) rotate(-90)" text-anchor="end">75</text>
<text transform="translate(586.25 1599.75) rotate(-90)" text-anchor="end">100</text>
<text transform="translate(683.09 1599.75) rotate(-90)" text-anchor="end">125</text>
<text transform="translate(828.7 1599.75) rotate(-90)" text-anchor="end">CMIP5</text>
<text transform="translate(894.6 1599.75) rotate(-90)" text-anchor="end">CMIP6</text>
<text transform="translate(960.2 1599.75) rotate(-90)" text-anchor="end">ERA/IV</text>
<text x="189.5" y="1692.6" style="letter-spacing:0.05px">Atm. grid spacing at 50<tspan dx="-0.2" dy="1.4">°</tspan><tspan dx="5.4" dy="-1.4">N (km)</tspan></text>
<text transform="translate(82.5 1231.6) rotate(-90)" text-anchor="middle" style="letter-spacing:0.2px">Spatial correlation</text>
<text x="206" y="938.5" style="letter-spacing:0.25px">AGP, ATL, JJA, coupled</text>
<text x="206" y="1545.8">c</text>
<text x="577.8" y="1348.6" class="l">AWI</text>
<text x="577.8" y="1381.18" class="l">CMCC</text>
<text x="577.8" y="1413.76" class="l">CNRM</text>
<text x="577.8" y="1446.34" class="l">EC-Earth</text>
<text x="577.8" y="1478.92" class="l">ECMWF</text>
<text x="577.8" y="1511.5" class="l">MOHC</text>
<text x="577.8" y="1544.08" class="l">MPI-M</text>
<text x="1205.3" y="1581.15" text-anchor="end" style="letter-spacing:0">0.0</text>
<text x="1205.3" y="1447.06" text-anchor="end" style="letter-spacing:0">0.2</text>
<text x="1205.3" y="1312.97" text-anchor="end" style="letter-spacing:0">0.4</text>
<text x="1205.3" y="1178.88" text-anchor="end" style="letter-spacing:0">0.6</text>
<text x="1205.3" y="1044.79" text-anchor="end" style="letter-spacing:0">0.8</text>
<text x="1205.3" y="910.7" text-anchor="end" style="letter-spacing:0">1.0</text>
<text transform="translate(1245.9 1599.75) rotate(-90)" text-anchor="end">0</text>
<text transform="translate(1342.74 1599.75) rotate(-90)" text-anchor="end">25</text>
<text transform="translate(1439.58 1599.75) rotate(-90)" text-anchor="end">50</text>
<text transform="translate(1536.41 1599.75) rotate(-90)" text-anchor="end">75</text>
<text transform="translate(1633.25 1599.75) rotate(-90)" text-anchor="end">100</text>
<text transform="translate(1730.09 1599.75) rotate(-90)" text-anchor="end">125</text>
<text transform="translate(1875.7 1599.75) rotate(-90)" text-anchor="end">CMIP5</text>
<text transform="translate(1941.6 1599.75) rotate(-90)" text-anchor="end">CMIP6</text>
<text transform="translate(2007.2 1599.75) rotate(-90)" text-anchor="end">ERA/IV</text>
<text x="1236.5" y="1692.6" style="letter-spacing:0.05px">Atm. grid spacing at 50<tspan dx="-0.2" dy="1.4">°</tspan><tspan dx="5.4" dy="-1.4">N (km)</tspan></text>
<text transform="translate(1129.5 1231.6) rotate(-90)" text-anchor="middle" style="letter-spacing:0.2px">Spatial correlation</text>
<text x="1253" y="938.5" style="letter-spacing:0.2px">AGP, ATL, JJA, AMIP</text>
<text x="1253" y="1545.8">d</text>
<text x="1624.8" y="1348.6" class="l">AWI</text>
<text x="1624.8" y="1381.18" class="l">CMCC</text>
<text x="1624.8" y="1413.76" class="l">CNRM</text>
<text x="1624.8" y="1446.34" class="l">EC-Earth</text>
<text x="1624.8" y="1478.92" class="l">ECMWF</text>
<text x="1624.8" y="1511.5" class="l">MOHC</text>
<text x="1624.8" y="1544.08" class="l">MPI-M</text>
<text x="158.3" y="2450.55" text-anchor="end" style="letter-spacing:0">0.000</text>
<text x="158.3" y="2316.46" text-anchor="end" style="letter-spacing:0">0.005</text>
<text x="158.3" y="2182.37" text-anchor="end" style="letter-spacing:0">0.010</text>
<text x="158.3" y="2048.28" text-anchor="end" style="letter-spacing:0">0.015</text>
<text x="158.3" y="1914.19" text-anchor="end" style="letter-spacing:0">0.020</text>
<text x="158.3" y="1780.1" text-anchor="end" style="letter-spacing:0">0.025</text>
<text transform="translate(198.9 2469.15) rotate(-90)" text-anchor="end">0</text>
<text transform="translate(295.74 2469.15) rotate(-90)" text-anchor="end">25</text>
<text transform="translate(392.58 2469.15) rotate(-90)" text-anchor="end">50</text>
<text transform="translate(489.41 2469.15) rotate(-90)" text-anchor="end">75</text>
<text transform="translate(586.25 2469.15) rotate(-90)" text-anchor="end">100</text>
<text transform="translate(683.09 2469.15) rotate(-90)" text-anchor="end">125</text>
<text transform="translate(828.7 2469.15) rotate(-90)" text-anchor="end">CMIP5</text>
<text transform="translate(894.6 2469.15) rotate(-90)" text-anchor="end">CMIP6</text>
<text transform="translate(960.2 2469.15) rotate(-90)" text-anchor="end">ERA/IV</text>
<text x="189.5" y="2562.5" style="letter-spacing:0.05px">Atm. grid spacing at 50<tspan dx="-0.2" dy="1.4">°</tspan><tspan dx="5.4" dy="-1.4">N (km)</tspan></text>
<text transform="translate(41.2 2097.6) rotate(-90)" text-anchor="middle" style="letter-spacing:0.28px">Root-mean-square error</text>
<text x="206" y="1807.9" style="letter-spacing:0.25px">AGP, ATL, JJA, coupled</text>
<text x="206" y="2415.2">e</text>
<text x="577.8" y="2218" class="l">AWI</text>
<text x="577.8" y="2250.58" class="l">CMCC</text>
<text x="577.8" y="2283.16" class="l">CNRM</text>
<text x="577.8" y="2315.74" class="l">EC-Earth</text>
<text x="577.8" y="2348.32" class="l">ECMWF</text>
<text x="577.8" y="2380.9" class="l">MOHC</text>
<text x="577.8" y="2413.48" class="l">MPI-M</text>
<text x="1205.3" y="2450.55" text-anchor="end" style="letter-spacing:0">0.000</text>
<text x="1205.3" y="2316.46" text-anchor="end" style="letter-spacing:0">0.005</text>
<text x="1205.3" y="2182.37" text-anchor="end" style="letter-spacing:0">0.010</text>
<text x="1205.3" y="2048.28" text-anchor="end" style="letter-spacing:0">0.015</text>
<text x="1205.3" y="1914.19" text-anchor="end" style="letter-spacing:0">0.020</text>
<text x="1205.3" y="1780.1" text-anchor="end" style="letter-spacing:0">0.025</text>
<text transform="translate(1245.9 2469.15) rotate(-90)" text-anchor="end">0</text>
<text transform="translate(1342.74 2469.15) rotate(-90)" text-anchor="end">25</text>
<text transform="translate(1439.58 2469.15) rotate(-90)" text-anchor="end">50</text>
<text transform="translate(1536.41 2469.15) rotate(-90)" text-anchor="end">75</text>
<text transform="translate(1633.25 2469.15) rotate(-90)" text-anchor="end">100</text>
<text transform="translate(1730.09 2469.15) rotate(-90)" text-anchor="end">125</text>
<text transform="translate(1875.7 2469.15) rotate(-90)" text-anchor="end">CMIP5</text>
<text transform="translate(1941.6 2469.15) rotate(-90)" text-anchor="end">CMIP6</text>
<text transform="translate(2007.2 2469.15) rotate(-90)" text-anchor="end">ERA/IV</text>
<text x="1236.5" y="2562.5" style="letter-spacing:0.05px">Atm. grid spacing at 50<tspan dx="-0.2" dy="1.4">°</tspan><tspan dx="5.4" dy="-1.4">N (km)</tspan></text>
<text transform="translate(1088.2 2097.6) rotate(-90)" text-anchor="middle" style="letter-spacing:0.28px">Root-mean-square error</text>
<text x="1253" y="1807.9" style="letter-spacing:0.2px">AGP, ATL, JJA, AMIP</text>
<text x="1253" y="2415.2">f</text>
<text x="1624.8" y="2218" class="l">AWI</text>
<text x="1624.8" y="2250.58" class="l">CMCC</text>
<text x="1624.8" y="2283.16" class="l">CNRM</text>
<text x="1624.8" y="2315.74" class="l">EC-Earth</text>
<text x="1624.8" y="2348.32" class="l">ECMWF</text>
<text x="1624.8" y="2380.9" class="l">MOHC</text>
<text x="1624.8" y="2413.48" class="l">MPI-M</text>
</g>
</svg>
</body>
</html>
